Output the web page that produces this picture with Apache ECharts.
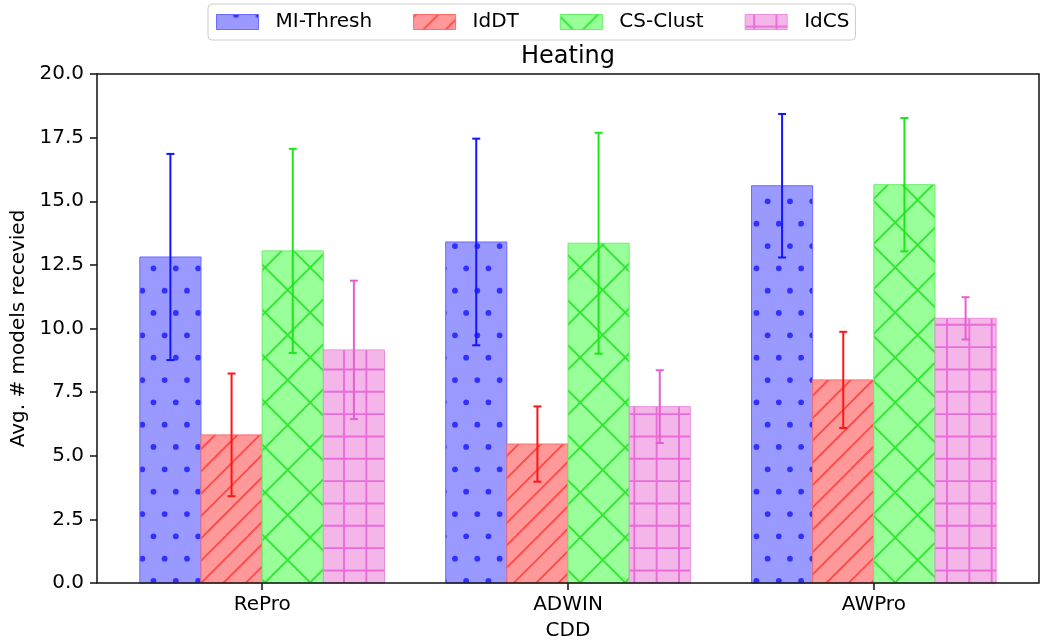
<!DOCTYPE html>
<html>
<head>
<meta charset="utf-8">
<script src="https://cdn.jsdelivr.net/npm/echarts@6/dist/echarts.min.js"></script>
<style>
html, body { margin: 0; padding: 0; background: #fff; }
#chart { width: 1040px; height: 644px; }
</style>
</head>
<body>
<div id="chart"></div>
<script>
// data
const categories = ['RePro', 'ADWIN', 'AWPro'];
const methods = ['MI-Thresh', 'IdDT', 'CS-Clust', 'IdCS'];
const miThresh = [12.81, 13.40, 15.61];
const miThreshErr = [4.05, 4.06, 2.82];
const idDT = [5.82, 5.46, 7.98];
const idDTErr = [2.41, 1.48, 1.89];
const csClust = [13.05, 13.35, 15.65];
const csClustErr = [4.01, 4.34, 2.62];
const idCS = [9.16, 6.93, 10.40];
const idCSErr = [2.72, 1.43, 0.83];
const yTicks = [0, 2.5, 5, 7.5, 10, 12.5, 15, 17.5, 20];

const values = [miThresh, idDT, csClust, idCS];
const errors = [miThreshErr, idDTErr, csClustErr, idCSErr];

const FONT = 'DejaVu Sans';

// hatch tiles, drawn on small canvases
function makeTile(size, bg, draw) {
	const c = document.createElement('canvas');
	c.width = size;
	c.height = size;
	const ctx = c.getContext('2d');
	ctx.fillStyle = bg;
	ctx.fillRect(0, 0, size, size);
	draw(ctx, size);
	return c;
}

// '.' staggered dots
const dotTile = makeTile(134, '#9999ff', (ctx, s) => {
	const p = s / 6;
	ctx.fillStyle = '#3131ff';
	for (let j = -1; j <= 3; j++) {
		for (let k = -1; k <= 7; k++) {
			const pts = [
				[8.3 + k * p, 22.7 + j * 2 * p],
				[8.3 + p / 2 + k * p, 0.3 + j * 2 * p],
			];
			pts.forEach(pt => {
				ctx.beginPath();
				ctx.arc(pt[0], pt[1], 2.9, 0, Math.PI * 2);
				ctx.fill();
			});
		}
	}
});

// '/' diagonal lines
const slashTile = makeTile(67, '#ff9999', (ctx, s) => {
	const p = s / 3;
	ctx.strokeStyle = '#ff4a4a';
	ctx.lineWidth = 1.9;
	for (let n = -4; n <= 8; n++) {
		const c = 2.4 + n * p;
		ctx.beginPath();
		ctx.moveTo(c + s, -s);
		ctx.lineTo(c - s, s);
		ctx.stroke();
	}
});

// 'x' crossed lines
const crossTile = makeTile(135, '#99ff99', (ctx, s) => {
	const p = s / 3;
	ctx.strokeStyle = '#33e633';
	ctx.lineWidth = 1.9;
	for (let n = -5; n <= 8; n++) {
		let c = 37.7 + n * p;
		ctx.beginPath();
		ctx.moveTo(c + s, -s);
		ctx.lineTo(c - s, s);
		ctx.stroke();
		c = 42.7 + n * p;
		ctx.beginPath();
		ctx.moveTo(c - s, -s);
		ctx.lineTo(c + s, s);
		ctx.stroke();
	}
});

// '+' grid
const gridTile = makeTile(67, '#f4b5e8', (ctx, s) => {
	const p = s / 3;
	ctx.strokeStyle = '#e86dd8';
	ctx.lineWidth = 1.9;
	for (let n = -1; n <= 3; n++) {
		ctx.beginPath();
		ctx.moveTo(9.0 + n * p, 0);
		ctx.lineTo(9.0 + n * p, s);
		ctx.stroke();
		ctx.beginPath();
		ctx.moveTo(0, 12.1 + n * p);
		ctx.lineTo(s, 12.1 + n * p);
		ctx.stroke();
	}
});

const fills = [dotTile, slashTile, crossTile, gridTile].map(t => ({ image: t, repeat: 'repeat' }));
const borders = ['#6b6bff', '#ff6b6b', '#66f066', '#ea8fdc'];
const errColors = ['#1414ff', '#ff1414', '#1ae61a', '#e45fd2'];

const renderGroup = k => (params, api) => {
	const ci = api.value(0);
	const v = api.value(1);
	const e = api.value(2);
	const x0 = ci - 0.4 + k * 0.2;
	const xm = x0 + 0.1;
	const p0 = api.coord([x0, v]);
	const p1 = api.coord([x0 + 0.2, 0]);
	const top = api.coord([xm, v + e]);
	const bot = api.coord([xm, v - e]);
	const cap = 4;
	const errStyle = { stroke: errColors[k], lineWidth: 2 };
	return {
		type: 'group',
		children: [
			{
				type: 'rect',
				shape: { x: p0[0], y: p0[1], width: p1[0] - p0[0], height: p1[1] - p0[1] },
				style: { fill: fills[k], stroke: borders[k], lineWidth: 1 },
				z2: 1,
			},
			{ type: 'line', shape: { x1: top[0], y1: top[1], x2: bot[0], y2: bot[1] }, style: errStyle, z2: 20 },
			{ type: 'line', shape: { x1: top[0] - cap, y1: top[1], x2: top[0] + cap, y2: top[1] }, style: errStyle, z2: 20 },
			{ type: 'line', shape: { x1: bot[0] - cap, y1: bot[1], x2: bot[0] + cap, y2: bot[1] }, style: errStyle, z2: 20 },
		],
	};
};

const series = methods.map((name, k) => ({
	name: name,
	type: 'custom',
	renderItem: renderGroup(k),
	itemStyle: { color: fills[k], borderColor: borders[k], borderWidth: 1 },
	encode: { x: 0, y: 1 },
	data: categories.map((c, i) => [i, values[k][i], errors[k][i]]),
}));

const axisColor = '#111';

const option = {
	animation: false,
	textStyle: { fontFamily: FONT },
	title: {
		text: 'Heating',
		left: 568,
		top: 45,
		padding: 0,
		textAlign: 'center',
		textStyle: { fontFamily: FONT, fontSize: 24, fontWeight: 'normal', color: '#000' },
	},
	legend: {
		left: 208,
		top: 4,
		icon: 'rect',
		itemWidth: 42,
		itemHeight: 15,
		itemGap: 41,
		padding: [7, 6, 7, 8],
		borderColor: '#cccccc',
		borderWidth: 1,
		borderRadius: 4,
		backgroundColor: 'rgba(255,255,255,0.8)',
		textStyle: { fontFamily: FONT, fontSize: 20, color: '#000', lineHeight: 22, padding: [0, 0, 0, 12] },
		data: methods.map((name, k) => ({
			name: name,
			itemStyle: { color: fills[k], borderColor: borders[k], borderWidth: 1 },
		})),
	},
	grid: {
		left: 97,
		right: 1,
		top: 74,
		bottom: 61,
		containLabel: false,
		outerBoundsMode: 'none',
		show: true,
		z: 10,
		borderColor: axisColor,
		borderWidth: 1.5,
		backgroundColor: 'transparent',
	},
	xAxis: {
		type: 'value',
		min: -0.54,
		max: 2.54,
		name: 'CDD',
		nameLocation: 'middle',
		nameGap: 38,
		nameTextStyle: { fontFamily: FONT, fontSize: 20, color: '#000' },
		axisLine: { show: false, onZero: false },
		splitLine: { show: false },
		axisTick: {
			show: true,
			length: 7,
			customValues: categories.map((c, i) => i),
			lineStyle: { color: axisColor, width: 1.5 },
		},
		axisLabel: {
			margin: 12,
			customValues: categories.map((c, i) => i),
			formatter: v => categories[Math.round(v)],
			fontFamily: FONT,
			fontSize: 20,
			color: '#000',
		},
	},
	yAxis: {
		type: 'value',
		min: yTicks[0],
		max: yTicks[yTicks.length - 1],
		interval: 2.5,
		name: 'Avg. # models recevied',
		nameLocation: 'middle',
		nameGap: 66,
		nameTextStyle: { fontFamily: FONT, fontSize: 20, color: '#000' },
		axisLine: { show: false, onZero: false },
		splitLine: { show: false },
		axisTick: { show: true, length: 7, lineStyle: { color: axisColor, width: 1.5 } },
		axisLabel: {
			margin: 13,
			formatter: v => v.toFixed(1),
			fontFamily: FONT,
			fontSize: 20,
			color: '#000',
		},
	},
	series: series,
};

const myChart = echarts.init(document.getElementById('chart'), null, { renderer: 'canvas' });
myChart.setOption(option);
</script>
</body>
</html>
